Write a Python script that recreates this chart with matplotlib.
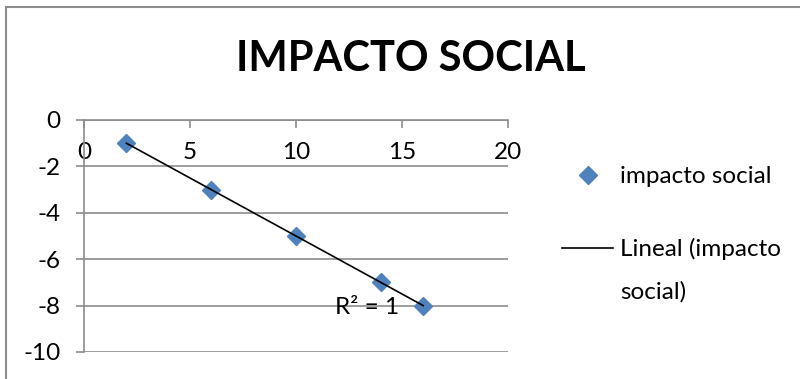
import numpy as np
import matplotlib
matplotlib.use("Agg")
import matplotlib.pyplot as plt
from matplotlib.lines import Line2D
from matplotlib.patches import Rectangle

# ---- data ----
x_vals = [2, 6, 10, 14, 16]
y_vals = [-1, -3, -5, -7, -8]
x_ticks = [0, 5, 10, 15, 20]
y_ticks = [-10, -8, -6, -4, -2, 0]
title = "IMPACTO SOCIAL"
series_label = "impacto social"
trend_label = "Lineal (impacto"
trend_label2 = "social)"

plt.rcParams['font.family'] = ['Lato', 'DejaVu Sans']
W, H = 800, 379
fig = plt.figure(figsize=(W / 100, H / 100), dpi=100)

def fx(px):
    return px / W

def fy(py):
    return 1 - py / H

grey = '#8c8c8c'
blue = '#4F81BD'
fs = 17.5

ax = fig.add_axes([fx(84), fy(352), fx(508) - fx(84), fy(120) - fy(352)])
ax.set_xlim(0, 20)
ax.set_ylim(-10, 0)
ax.set_xticks(x_ticks)
ax.set_yticks(y_ticks)
ax.set_xticklabels([str(v) for v in x_ticks])
ax.set_yticklabels([str(v) for v in y_ticks])

for s in ['top', 'right']:
    ax.spines[s].set_visible(False)
ax.spines['bottom'].set_position(('data', 0))
ax.spines['bottom'].set_color(grey)
ax.spines['left'].set_color(grey)
ax.spines['bottom'].set_linewidth(1.2)
ax.spines['left'].set_linewidth(1.2)

ax.tick_params(axis='x', direction='out', length=5.8, width=1.2, color=grey,
               labelsize=fs, pad=10, labelcolor='black')
ax.tick_params(axis='y', direction='out', length=5.8, width=1.2, color=grey,
               labelsize=fs, pad=11, labelcolor='black')
ax.yaxis.grid(True, color=grey, linewidth=1.2)
ax.set_axisbelow(True)

# scatter
ax.plot(x_vals, y_vals, linestyle='none', marker='D', markersize=8.7,
        color=blue, zorder=3, clip_on=False)
# trendline
coef = np.polyfit(x_vals, y_vals, 1)
xt = np.array([min(x_vals), max(x_vals)])
ax.plot(xt, np.polyval(coef, xt), color='black', linewidth=1.2, zorder=4,
        clip_on=False)
pred = np.polyval(coef, np.array(x_vals))
ss_res = np.sum((np.array(y_vals) - pred) ** 2)
ss_tot = np.sum((np.array(y_vals) - np.mean(y_vals)) ** 2)
r2 = 1 - ss_res / ss_tot
fig.text(fx(367), fy(307), "R² = %g" % round(r2, 4), ha='center', va='center',
         fontsize=fs, zorder=5)

# title
fig.text(fx(411), fy(59), title, ha='center', va='center', fontsize=30,
         fontweight='bold')

# legend
handles = [Line2D([], [], linestyle='none', marker='D', markersize=8.7, color=blue),
           Line2D([], [], color='black', linewidth=1.2)]
leg = fig.legend(handles, [series_label, trend_label], loc='upper left',
                 bbox_to_anchor=(fx(562), fy(166)), bbox_transform=fig.transFigure,
                 frameon=False, borderpad=0, borderaxespad=0, fontsize=fs,
                 handlelength=2.1, handletextpad=0.3, labelspacing=2.1)
fig.text(fx(620), fy(292), trend_label2, ha='left', va='center', fontsize=fs)

# outer chart border
fig.add_artist(Rectangle((fx(6), -0.2), 2.0, fy(7) + 0.2, transform=fig.transFigure,
                         fill=False, edgecolor=grey, linewidth=1.5))

fig.savefig('out.png', dpi=100)
